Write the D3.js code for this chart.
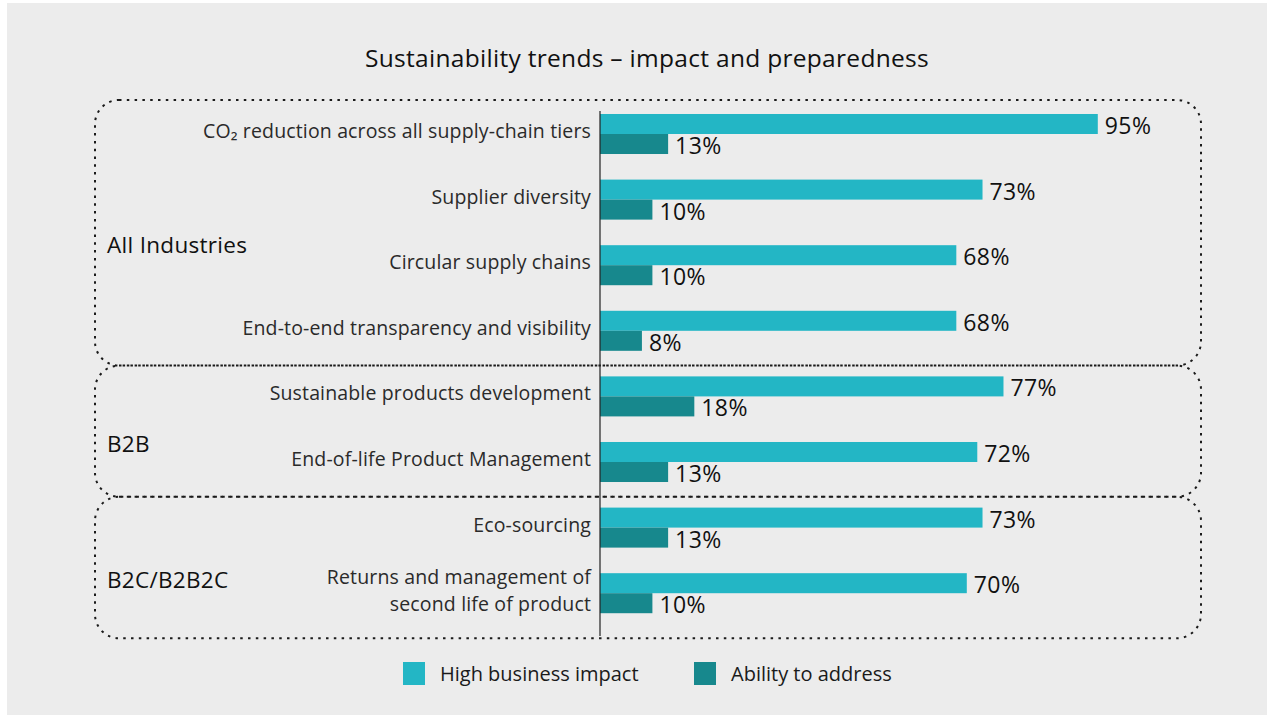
<!DOCTYPE html>
<html>
<head>
<meta charset="utf-8">
<script src="https://cdn.jsdelivr.net/npm/d3@7"></script>
<style>
  body { margin: 0; background: #fff; }
  text { font-family: "Open Sans", sans-serif; }
</style>
</head>
<body>
<div id="chart"></div>
<script>
// Data
const categories = [
  "CO₂ reduction across all supply-chain tiers",
  "Supplier diversity",
  "Circular supply chains",
  "End-to-end transparency and visibility",
  "Sustainable products development",
  "End-of-life Product Management",
  "Eco-sourcing",
  "Returns and management of\nsecond life of product"
];
const highImpact = [95, 73, 68, 68, 77, 72, 73, 70];
const ability = [13, 10, 10, 8, 18, 13, 13, 10];
const groups = ["All Industries", "B2B", "B2C/B2B2C"];
const groupSizes = [4, 2, 2];
const seriesNames = ["High business impact", "Ability to address"];
const colors = ["#23b6c5", "#17888d"];

// Dimensions
const width = 1269, height = 717;

let svg = d3.select("#chart").append("svg")
    .attr("width", width)
    .attr("height", height)

// grey panel
svg.append("rect")
    .attr("x", 7).attr("y", 3)
    .attr("width", 1260).attr("height", 712)
    .attr("fill", "#ececec")

// Scales
let x = d3.scaleLinear().domain([0, 100]).range([600, 1124])
let y = d3.scaleBand().domain(categories).range([101.2, 626])
    .paddingInner(0.39).paddingOuter(0.195)
let ySub = d3.scaleBand().domain([0, 1]).range([0, y.bandwidth()])

// Title
svg.append("text")
    .attr("x", 647).attr("y", 57)
    .attr("text-anchor", "middle")
    .attr("dominant-baseline", "central")
    .attr("font-size", "24.5px")
    .attr("letter-spacing", "0.3px")
    .attr("fill", "#111")
    .text("Sustainability trends – impact and preparedness")

// ------------ GROUP BOXES ------------ //
let boxes = [];
let start = 0;
groupSizes.forEach((n, i) => {
    let first = categories[start], last = categories[start + n - 1];
    let top = i === 0 ? y(first) - 14
        : (y(categories[start - 1]) + y.bandwidth() + y(first)) / 2 + 2;
    let bottom = i === groups.length - 1 ? y(last) + y.bandwidth() + 25
        : (y(last) + y.bandwidth() + y(categories[start + n])) / 2 + 2;
    boxes.push({ name: groups[i], top: top, bottom: bottom });
    start += n;
});

svg.append("g").selectAll("rect")
    .data(boxes)
    .enter().append("rect")
    .attr("x", 95)
    .attr("y", d => d.top)
    .attr("width", 1106)
    .attr("height", d => d.bottom - d.top)
    .attr("rx", 24)
    .attr("fill", "none")
    .attr("stroke", "#1a1a1a")
    .attr("stroke-width", 2)
    .attr("stroke-dasharray", "2.5 5.3")

svg.append("g").selectAll("text")
    .data(boxes)
    .enter().append("text")
    .attr("x", 107)
    .attr("y", d => (d.top + d.bottom) / 2 + 12)
    .attr("dominant-baseline", "central")
    .attr("font-size", "22.5px")
    .attr("letter-spacing", "0.3px")
    .attr("fill", "#111")
    .text(d => d.name)

// ------------ BARS ------------ //
let rows = categories.map((c, i) => ({ cat: c, vals: [highImpact[i], ability[i]] }));

let rowG = svg.append("g").selectAll("g")
    .data(rows)
    .enter().append("g")
    .attr("transform", d => `translate(0,${y(d.cat)})`)

rowG.selectAll("rect")
    .data(d => d.vals)
    .enter().append("rect")
    .attr("x", x(0))
    .attr("y", (d, i) => ySub(i))
    .attr("width", d => x(d) - x(0))
    .attr("height", ySub.bandwidth())
    .attr("fill", (d, i) => colors[i])

rowG.selectAll("text.val")
    .data(d => d.vals)
    .enter().append("text")
    .attr("class", "val")
    .attr("x", d => x(d) + 7)
    .attr("y", (d, i) => ySub(i) + ySub.bandwidth() / 2 + 1)
    .attr("dominant-baseline", "central")
    .attr("font-size", "23px")
    .attr("letter-spacing", "0.4px")
    .attr("fill", "#111")
    .text(d => d + "%")

// category labels
let catLabels = svg.append("g").selectAll("text")
    .data(categories)
    .enter().append("text")
    .attr("text-anchor", "end")
    .attr("font-size", "19.5px")
    .attr("letter-spacing", "0.15px")
    .attr("fill", "#2a2a2a")
    .attr("y", d => y(d) + y.bandwidth() / 2 - 2)

catLabels.each(function(d) {
    let lines = d.split("\n");
    let t = d3.select(this);
    lines.forEach((line, i) => {
        t.append("tspan")
            .attr("x", 591)
            .attr("dy", i === 0 ? (-(lines.length - 1) * 13 + 6) + "px" : "26.5px")
            .text(line)
    })
})

// axis line
svg.append("line")
    .attr("x1", x(0)).attr("x2", x(0))
    .attr("y1", 111).attr("y2", 636)
    .attr("stroke", "#222")
    .attr("stroke-width", 1.2)

// ------------ LEGEND ------------ //
let legendX = [403, 694];
let legend = svg.append("g").selectAll("g")
    .data(seriesNames)
    .enter().append("g")
    .attr("transform", (d, i) => `translate(${legendX[i]},662)`)

legend.append("rect")
    .attr("width", 22).attr("height", 23)
    .attr("fill", (d, i) => colors[i])

legend.append("text")
    .attr("x", 37)
    .attr("y", 11)
    .attr("dominant-baseline", "central")
    .attr("font-size", "20px")
    .attr("fill", "#1a1a1a")
    .text(d => d)
</script>
</body>
</html>
